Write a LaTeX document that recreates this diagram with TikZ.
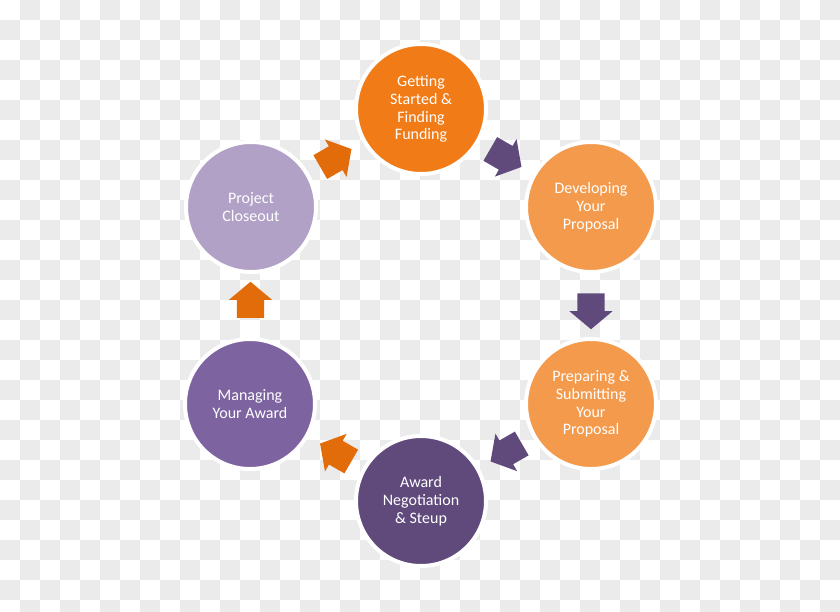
\documentclass[tikz,border=0pt]{standalone}
\usepackage{fontspec}
\setmainfont{Carlito}
\usepackage{xcolor}
\usetikzlibrary{shapes.arrows}
\usetikzlibrary{calc}
\definecolor{deeporange}{HTML}{F07B17}
\definecolor{softorange}{HTML}{F49A4C}
\definecolor{deeppurple}{HTML}{5F4A7B}
\definecolor{midpurple}{HTML}{7D63A0}
\definecolor{palepurple}{HTML}{B1A1C7}
\definecolor{arroworange}{HTML}{E36C0A}
\definecolor{checker}{HTML}{EBEBEB}

\begin{document}
\begin{tikzpicture}[x=1pt,y=-1pt,
  stage/.style={circle,draw=white,line width=4pt,minimum size=130pt,inner sep=0pt,
    text=white,align=center,font=\fontsize{16}{17.8}\selectfont},
  flow/.style={single arrow,draw=none,minimum height=36pt,minimum width=1pt,
    inner xsep=0pt,inner ysep=13.5pt,single arrow head extend=8pt,single arrow tip angle=100}
]
\path[use as bounding box,clip] (0,0) rectangle (840,611);
\fill[white] (0,0) rectangle (840,611);
\foreach \i in {0,...,41}{
  \foreach \j in {0,...,30}{
    \pgfmathtruncatemacro\odd{mod(\i+\j,2)}
    \ifnum\odd=1 \fill[checker] (20*\i,20*\j) rectangle ++(20,20);\fi
  }
}

\node[stage,fill=deeporange] (start) at (421,109) {Getting\\Started \&\\Finding\\Funding};
\node[stage,fill=softorange] (develop) at (591,207) {Developing\\Your\\Proposal};
\node[stage,fill=softorange] (submit) at (591,404) {Preparing \&\\Submitting\\Your\\Proposal};
\node[stage,fill=deeppurple] (negotiate) at (421,501) {Award\\Negotiation\\\& Steup};
\node[stage,fill=midpurple] (manage) at (250,404) {Managing\\Your Award};
\node[stage,fill=palepurple] (closeout) at (251,207) {Project\\Closeout};

\node[flow,fill=deeppurple,rotate=-30] (a1) at ($(start)!0.47!(develop)$) {};
\node[flow,fill=deeppurple,rotate=-90] (a2) at ($(develop)!0.5!(submit)$) {};
\node[flow,fill=deeppurple,rotate=-150] (a3) at ($(submit)!0.47!(negotiate)$) {};
\node[flow,fill=arroworange,rotate=150] (a4) at ($(negotiate)!0.47!(manage)$) {};
\node[flow,fill=arroworange,rotate=90] (a5) at ($(manage)!0.5!(closeout)$) {};
\node[flow,fill=arroworange,rotate=30] (a6) at ($(closeout)!0.47!(start)$) {};
\end{tikzpicture}
\end{document}
